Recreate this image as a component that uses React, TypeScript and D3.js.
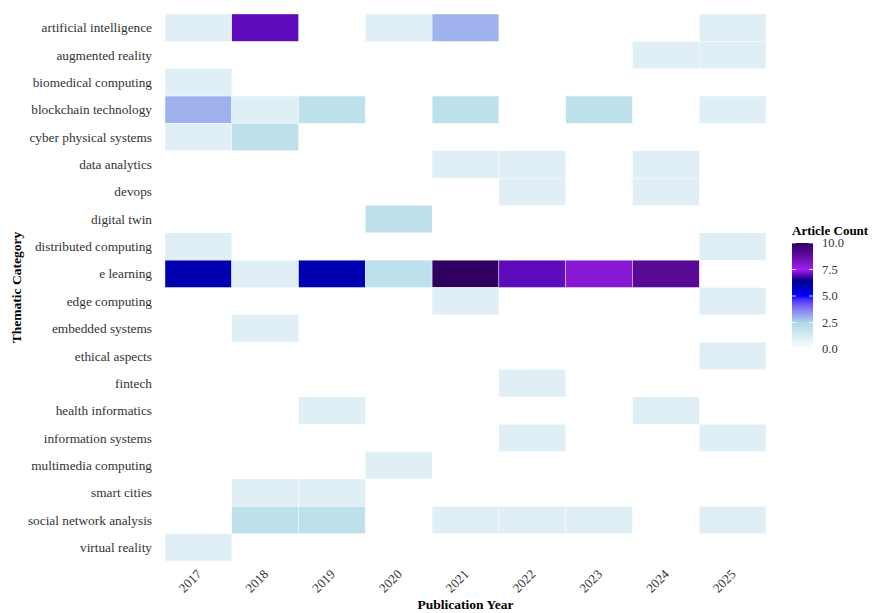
import React from "react";
import * as d3 from "d3";

const categories = [
  "artificial intelligence", "augmented reality", "biomedical computing", "blockchain technology",
  "cyber physical systems", "data analytics", "devops", "digital twin", "distributed computing",
  "e learning", "edge computing", "embedded systems", "ethical aspects", "fintech",
  "health informatics", "information systems", "multimedia computing", "smart cities",
  "social network analysis", "virtual reality",
];
const years = ["2017", "2018", "2019", "2020", "2021", "2022", "2023", "2024", "2025"];
// counts per category, columns 2017..2025 (0 = no tile)
const counts = [
  [1, 7, 0, 1, 3, 0, 0, 0, 1],
  [0, 0, 0, 0, 0, 0, 0, 1, 1],
  [1, 0, 0, 0, 0, 0, 0, 0, 0],
  [3, 1, 2, 0, 2, 0, 2, 0, 1],
  [1, 2, 0, 0, 0, 0, 0, 0, 0],
  [0, 0, 0, 0, 1, 1, 0, 1, 0],
  [0, 0, 0, 0, 0, 1, 0, 1, 0],
  [0, 0, 0, 2, 0, 0, 0, 0, 0],
  [1, 0, 0, 0, 0, 0, 0, 0, 1],
  [6, 1, 6, 2, 10, 7, 8, 9, 0],
  [0, 0, 0, 0, 1, 0, 0, 0, 1],
  [0, 1, 0, 0, 0, 0, 0, 0, 0],
  [0, 0, 0, 0, 0, 0, 0, 0, 1],
  [0, 0, 0, 0, 0, 1, 0, 0, 0],
  [0, 0, 1, 0, 0, 0, 0, 1, 0],
  [0, 0, 0, 0, 0, 1, 0, 0, 1],
  [0, 0, 0, 1, 0, 0, 0, 0, 0],
  [0, 1, 1, 0, 0, 0, 0, 0, 0],
  [0, 2, 2, 0, 1, 1, 1, 0, 1],
  [1, 0, 0, 0, 0, 0, 0, 0, 0],
];
const legendTicks = [0, 2.5, 5, 7.5, 10];
const colorStops = [0, 2.5, 5, 6.5, 7.5, 10];
const colorRange = ["#ffffff", "#add8e6", "#0000ff", "#00008b", "#a020f0", "#300060"];

const W = 873, H = 613;
const panel = { left: 165, right: 766, top: 14, bottom: 561 };
const font = "'Liberation Serif', 'Times New Roman', serif";

export default function App() {
  const x = d3.scaleBand().domain(years).range([panel.left, panel.right]);
  const y = d3.scaleBand().domain(categories).range([panel.top, panel.bottom]);
  const color = d3.scaleLinear<string>().domain(colorStops).range(colorRange).interpolate(d3.interpolateLab);

  const cells: { c: string; yr: string; v: number }[] = [];
  categories.forEach((c, i) => years.forEach((yr, j) => {
    const v = counts[i][j];
    if (v > 0) cells.push({ c, yr, v });
  }));

  const leg = { x: 792, w: 21, top: 243, bottom: 349 };
  const ly = d3.scaleLinear().domain([0, 10]).range([leg.bottom, leg.top]);
  const gradStops = d3.range(0, 10.01, 0.25);

  return (
    <svg width={W} height={H} style={{ position: "absolute", left: 0, top: 0, background: "#fff" }} fontFamily={font}>
      <defs>
        <linearGradient id="lg" x1="0" y1="1" x2="0" y2="0">
          {gradStops.map((s) => (
            <stop key={s} offset={`${s * 10}%`} stopColor={color(s)} />
          ))}
        </linearGradient>
      </defs>
      <rect width={W} height={H} fill="#fff" />
      {cells.map((d) => (
        <rect key={d.c + d.yr} x={x(d.yr)} y={y(d.c)} width={x.bandwidth()} height={y.bandwidth()}
          fill={color(d.v)} stroke="#ffffff" strokeWidth={0.4} />
      ))}
      {categories.map((c) => (
        <text key={c} x={152} y={(y(c) as number) + y.bandwidth() / 2} dy="0.35em" textAnchor="end"
          fontSize={13.3} fill="#333">{c}</text>
      ))}
      {years.map((yr) => {
        const cx = (x(yr) as number) + x.bandwidth() / 2;
        return (
          <text key={yr} transform={`translate(${cx + 4},${575}) rotate(-45)`} textAnchor="end"
            fontSize={13} fill="#333">{yr}</text>
        );
      })}
      <text x={(panel.left + panel.right) / 2} y={609} textAnchor="middle" fontSize={13.5} fontWeight="bold">Publication Year</text>
      <text transform={`translate(21,${(panel.top + panel.bottom) / 2}) rotate(-90)`} textAnchor="middle"
        fontSize={13.5} fontWeight="bold">Thematic Category</text>
      <text x={leg.x} y={235} fontSize={13} fontWeight="bold">Article Count</text>
      <rect x={leg.x} y={leg.top} width={leg.w} height={leg.bottom - leg.top} fill="url(#lg)" />
      {legendTicks.map((t) => (
        <g key={t}>
          <line x1={leg.x} x2={leg.x + 4} y1={ly(t)} y2={ly(t)} stroke="#fff" strokeWidth={0.8} />
          <line x1={leg.x + leg.w - 4} x2={leg.x + leg.w} y1={ly(t)} y2={ly(t)} stroke="#fff" strokeWidth={0.8} />
          <text x={leg.x + leg.w + 9} y={ly(t)} dy="0.35em" fontSize={12.5} fill="#333">{t.toFixed(1)}</text>
        </g>
      ))}
    </svg>
  );
}
